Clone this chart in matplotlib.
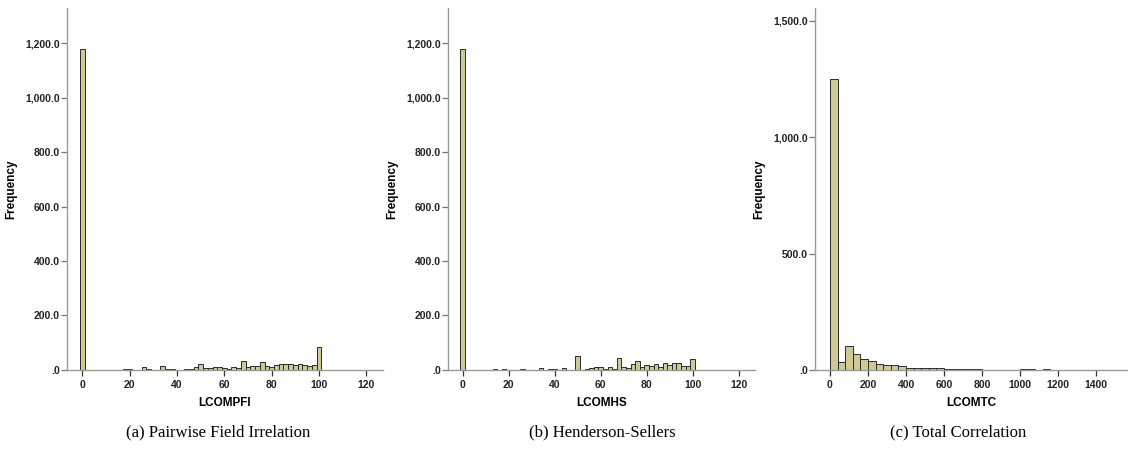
import matplotlib
matplotlib.use("Agg")
import matplotlib.pyplot as plt
import matplotlib.ticker as mticker

# LCOM histograms: frequency of classes per metric value
pfi_centers = list(range(0, 102, 2))
pfi_counts = [1180, 0, 0, 0, 0, 1, 0, 0, 0, 3, 2, 1, 0, 9, 2, 0, 1, 15, 2, 2,
              1, 1, 2, 4, 9, 20, 8, 7, 9, 10, 6, 3, 11, 6, 34, 9, 16, 16, 28, 14,
              11, 19, 22, 22, 21, 18, 23, 17, 14, 18, 85]

hs_centers = list(range(0, 102, 2))
hs_counts = [1180, 0, 0, 1, 0, 0, 0, 2, 0, 3, 1, 0, 0, 3, 1, 0, 0, 6, 0, 2,
             3, 0, 6, 0, 1, 52, 1, 5, 6, 12, 12, 4, 11, 3, 42, 11, 8, 20, 33, 11,
             17, 14, 20, 10, 24, 19, 24, 26, 14, 14, 39]

tc_edges = list(range(0, 1420, 40))
tc_counts = [1250, 34, 103, 69, 46, 39, 24, 19, 19, 16, 10, 8, 8, 8, 7, 3, 4, 2, 2, 2,
             0, 1, 1, 0, 0, 2, 2, 1, 2, 0, 0, 0, 0, 0, 0, 1]

captions = ["(a) Pairwise Field Irrelation", "(b) Henderson-Sellers", "(c) Total Correlation"]
xlabels = ["LCOMPFI", "LCOMHS", "LCOMTC"]

BAR_COLOR = "#cfc995"
EDGE_COLOR = "#2b2b2b"
SPINE_COLOR = "#9a9a9a"


def freq_fmt(v, pos):
    s = f"{v:,.1f}"
    return s[1:] if s.startswith("0") else s


def style_axis(ax, xlabel):
    for side in ("top", "right"):
        ax.spines[side].set_visible(False)
    for side in ("left", "bottom"):
        ax.spines[side].set_color(SPINE_COLOR)
        ax.spines[side].set_linewidth(1.0)
    ax.tick_params(axis="y", length=4, width=0.9, color="#777777", pad=1)
    ax.tick_params(axis="x", length=4, width=0.9, color="#333333", pad=3)
    for lab in ax.get_xticklabels() + ax.get_yticklabels():
        lab.set_fontweight("bold")
        lab.set_fontsize(7.5)
        lab.set_color("#222222")
    ax.yaxis.set_major_formatter(mticker.FuncFormatter(freq_fmt))
    ax.set_xlabel(xlabel, fontsize=8.5, fontweight="bold", labelpad=5)
    ax.set_ylabel("Frequency", fontsize=8.5, fontweight="bold", labelpad=6)


def main() -> None:
    plt.rcParams["font.family"] = ["Liberation Sans", "DejaVu Sans"]
    fig = plt.figure(figsize=(11.28, 4.5), dpi=100)

    ax_a = fig.add_axes([0.0594, 0.178, 0.280, 0.804])
    ax_b = fig.add_axes([0.397, 0.178, 0.272, 0.804])
    ax_c = fig.add_axes([0.7225, 0.178, 0.2775, 0.804])

    for ax, centers, counts in ((ax_a, pfi_centers, pfi_counts), (ax_b, hs_centers, hs_counts)):
        xs = [c for c, n in zip(centers, counts) if n > 0]
        hs = [n for n in counts if n > 0]
        ax.bar(xs, hs, width=2, color=BAR_COLOR, edgecolor=EDGE_COLOR, linewidth=0.7)
        ax.set_xlim(-6.5, 127)
        ax.set_ylim(0, 1330)
        ax.set_xticks(range(0, 121, 20))
        ax.set_yticks(range(0, 1201, 200))

    xs = [e for e, n in zip(tc_edges, tc_counts) if n > 0]
    hs = [n for n in tc_counts if n > 0]
    ax_c.bar(xs, hs, width=40, align="edge", color=BAR_COLOR, edgecolor=EDGE_COLOR, linewidth=0.7)
    ax_c.set_xlim(-79, 1568)
    ax_c.set_ylim(0, 1555)
    ax_c.set_xticks(range(0, 1401, 200))
    ax_c.set_yticks(range(0, 1501, 500))

    for ax, xl in zip((ax_a, ax_b, ax_c), xlabels):
        style_axis(ax, xl)

    for x, cap in zip((218, 602, 958), captions):
        fig.text(x / 1128, 1 - 432 / 450, cap, ha="center", va="center",
                 fontsize=12, family="Liberation Serif")

    fig.savefig("out.png", dpi=100)


if __name__ == "__main__":
    main()
